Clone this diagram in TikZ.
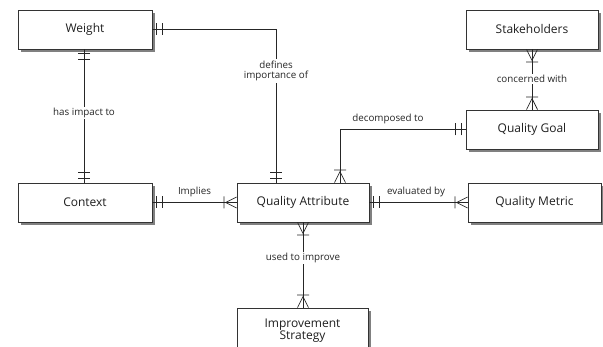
\documentclass[tikz,border=0pt]{standalone}
\usepackage{fontspec}
\setmainfont{Open Sans}
\usetikzlibrary{shadows}
\begin{document}
\begin{tikzpicture}[x=1pt,y=-1pt,
  ent/.style={draw=black!80, fill=white, line width=0.8pt, minimum width=134pt,
    minimum height=39pt, inner sep=0pt, font=\fontsize{12}{14}\selectfont,
    text=black!88, align=center,
    general shadow={fill=black!50, shadow xshift=3pt, shadow yshift=-3pt}},
  lbl/.style={fill=white, inner sep=1.5pt, font=\fontsize{9.8}{12.5}\selectfont,
    text=black!85, align=center},
  conn/.style={draw=black!85, line width=0.75pt},
  one/.pic={\draw[conn] (4,-6)--(4,6) (10,-6)--(10,6);},
  many/.pic={\draw[conn] (0,-5.5)--(11,0)--(0,5.5) (12.5,-6)--(12.5,6);}]
\useasboundingbox (0,0) rectangle (603,347);
\fill[white] (0,0) rectangle (603,347);
% entities
\node[ent] (w) at (85,29.5) {Weight};
\node[ent, minimum width=132pt] (sh) at (532,29.5) {Stakeholders};
\node[ent, minimum width=132pt] (qg) at (532,129.5) {Quality Goal};
\node[ent] (ctx) at (85,202.5) {Context};
\node[ent, minimum width=132pt] (qa) at (303,202.5) {Quality Attribute};
\node[ent, minimum width=133pt] (qm) at (534.5,202.5) {Quality Metric};
\node[ent, minimum width=131pt, minimum height=46pt] (is) at (302.5,331) {Improvement\\[-2pt]Strategy};
% anchor points
\coordinate (qan1) at ([xshift=-27pt]qa.north);
\coordinate (qan2) at ([xshift=37pt]qa.north);
\coordinate (ws) at ([xshift=-1pt]w.south);
\coordinate (ctxn) at ([xshift=-1pt]ctx.north);
\coordinate (isn) at (is.north -| qa.south);
% connectors
\draw[conn] (w.east) -| (qan1);
\draw[conn] (ws) -- (ctxn);
\draw[conn] (ctx.east) -- (qa.west);
\draw[conn] (qa.east) -- (qm.west);
\draw[conn] (qan2) |- (qg.west);
\draw[conn] (qg.north) -- (sh.south);
\draw[conn] (qa.south) -- (isn);
% labels
\node[lbl] (l1) at (276,71) {defines\\[-2pt]importance of};
\node[lbl] (l2) at (84,113) {has impact to};
\node[lbl, fill=none] (l3) at (194.5,191.5) {Implies};
\node[lbl, fill=none] (l4) at (416,191.5) {evaluated by};
\node[lbl, fill=none] (l5) at (388,118.5) {decomposed to};
\node[lbl] (l6) at (532,79) {concerned with};
\node[lbl] (l7) at (303,258) {used to improve};
% end markers
\pic at (w.east) {one};
\pic[rotate=90] at (qan1) {one};
\pic[rotate=-90] at (ws) {one};
\pic[rotate=90] at (ctxn) {one};
\pic at (ctx.east) {one};
\pic[rotate=180] at (qa.west) {many};
\pic at (qa.east) {one};
\pic[rotate=180] at (qm.west) {many};
\pic[rotate=90] at (qan2) {many};
\pic[rotate=180] at (qg.west) {one};
\pic[rotate=90] at (qg.north) {many};
\pic[rotate=-90] at (sh.south) {many};
\pic[rotate=-90] at (qa.south) {many};
\pic[rotate=90] at (isn) {many};
\end{tikzpicture}
\end{document}
